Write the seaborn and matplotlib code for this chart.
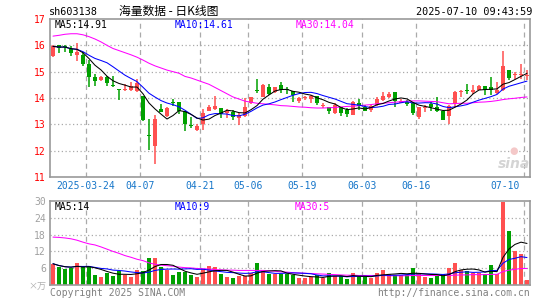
import numpy as np
import pandas as pd
import matplotlib
matplotlib.use("Agg")
import matplotlib.pyplot as plt
import seaborn as sns

# 日K数据 (2025-03-14 .. 2025-07-10), 读自图片
opens = [15.59, 16.00, 15.99, 15.87, 15.62, 15.62, 15.31, 14.80, 14.69, 14.78,
         14.50, 14.32, 14.29, 14.31, 14.25, 14.06, 12.60, 12.16, 13.60, 13.31,
         13.85, 13.86, 13.49, 12.95, 12.80, 13.02, 13.52, 13.57, 13.62, 13.42,
         13.45, 13.24, 13.30, 13.82, 14.29, 14.05, 14.42, 14.24, 14.49, 14.31,
         14.27, 13.90, 13.99, 13.96, 14.08, 13.69, 13.67, 13.44, 13.67, 13.55,
         13.36, 13.82, 13.65, 13.55, 13.74, 13.92, 14.05, 14.22, 13.82, 13.86,
         13.80, 13.27, 13.61, 13.77, 13.65, 13.51, 13.30, 13.77, 14.24, 14.27,
         14.24, 14.32, 14.45, 14.42, 14.20, 14.32, 15.07, 14.86, 14.87, 14.85]
closes = [15.96, 15.91, 15.93, 15.69, 15.75, 15.31, 14.81, 14.66, 14.80, 14.56,
          14.44, 14.30, 14.34, 14.44, 14.56, 13.16, 12.55, 13.21, 13.46, 13.63,
          13.82, 13.49, 13.02, 12.93, 12.95, 13.42, 13.67, 13.70, 13.40, 13.49,
          13.27, 13.36, 13.64, 14.02, 14.27, 14.49, 14.15, 14.40, 14.30, 14.30,
          14.11, 13.99, 14.05, 14.09, 13.80, 13.74, 13.49, 13.74, 13.42, 13.40,
          13.86, 13.70, 13.52, 13.70, 13.95, 14.09, 14.17, 13.90, 13.90, 13.77,
          13.42, 13.65, 13.67, 13.65, 13.49, 13.17, 13.70, 14.24, 14.26, 14.25,
          14.32, 14.45, 14.32, 14.32, 14.32, 15.21, 14.76, 14.90, 14.92, 14.89]
highs = [16.00, 16.02, 16.00, 15.96, 16.10, 15.75, 15.44, 14.91, 14.84, 14.84,
         14.84, 14.34, 14.54, 14.60, 14.73, 14.06, 13.19, 13.34, 13.79, 13.66,
         13.96, 13.86, 13.49, 13.27, 13.00, 13.59, 13.72, 14.07, 13.62, 13.57,
         13.55, 13.42, 13.99, 14.02, 14.74, 14.55, 14.55, 14.42, 14.61, 14.40,
         14.27, 14.05, 14.07, 14.11, 14.08, 13.80, 13.67, 13.80, 13.67, 13.61,
         13.90, 13.95, 13.74, 13.74, 14.05, 14.24, 14.24, 14.22, 13.97, 13.92,
         13.86, 13.67, 13.74, 13.86, 14.05, 13.51, 13.74, 14.27, 14.30, 14.55,
         14.49, 14.49, 14.45, 14.80, 14.61, 15.77, 15.07, 14.99, 15.30, 15.07]
lows = [15.55, 15.71, 15.75, 15.59, 15.41, 15.22, 14.41, 14.47, 14.66, 14.44,
        14.41, 13.91, 14.26, 14.28, 14.21, 13.12, 12.04, 11.50, 13.46, 13.29,
        13.71, 13.40, 12.74, 12.86, 12.74, 12.80, 13.49, 13.55, 13.24, 13.24,
        13.17, 12.96, 13.27, 13.77, 14.20, 14.05, 14.11, 14.18, 14.18, 14.15,
        13.86, 13.82, 13.94, 13.80, 13.74, 13.61, 13.40, 13.41, 13.31, 13.28,
        13.36, 13.55, 13.49, 13.45, 13.70, 13.90, 13.99, 13.65, 13.80, 13.70,
        13.36, 13.20, 13.45, 13.49, 13.45, 13.15, 13.02, 13.65, 14.05, 14.17,
        14.17, 14.30, 14.11, 14.11, 14.17, 14.27, 14.67, 14.74, 14.74, 14.67]
ma30 = [16.35, 16.38, 16.42, 16.44, 16.44, 16.40, 16.33, 16.24, 16.13, 16.00,
        15.88, 15.80, 15.72, 15.64, 15.55, 15.44, 15.32, 15.22, 15.14, 15.06,
        15.00, 14.94, 14.82, 14.76, 14.68, 14.60, 14.52, 14.40, 14.28, 14.16,
        14.04, 13.96, 13.88, 13.84, 13.80, 13.78, 13.76, 13.74, 13.71, 13.70,
        13.68, 13.66, 13.65, 13.63, 13.62, 13.62, 13.63, 13.64, 13.66, 13.68,
        13.69, 13.71, 13.73, 13.75, 13.78, 13.80, 13.82, 13.84, 13.86, 13.88,
        13.89, 13.89, 13.88, 13.87, 13.86, 13.82, 13.78, 13.79, 13.80, 13.80,
        13.82, 13.84, 13.85, 13.87, 13.90, 13.94, 13.97, 13.99, 14.02, 14.04]

# 成交量 (万)
volume = [7.6, 6.3, 5.7, 5.9, 7.8, 6.4, 6.9, 3.7, 3.0, 4.2,
          3.3, 5.0, 3.6, 2.7, 5.5, 5.1, 9.8, 9.8, 6.4, 5.5,
          3.7, 4.5, 4.5, 3.4, 3.0, 5.7, 6.9, 6.5, 4.0, 3.0,
          2.6, 3.1, 3.3, 4.3, 7.9, 5.5, 4.0, 3.9, 3.9, 3.9,
          3.4, 2.4, 2.4, 2.8, 3.4, 2.5, 4.3, 3.1, 3.1, 2.0,
          4.4, 3.0, 3.0, 2.4, 4.4, 5.2, 4.0, 3.7, 3.4, 3.7,
          6.2, 3.8, 2.7, 2.4, 3.6, 4.0, 5.9, 7.9, 5.5, 4.9,
          4.3, 4.3, 4.0, 7.2, 4.0, 29.8, 19.3, 12.2, 11.2, 1.7]
vol_ma30 = [17.1, 17.0, 16.8, 16.5, 16.0, 15.3, 14.7, 14.3, 13.6, 12.8,
            12.0, 11.3, 10.5, 9.9, 9.2, 8.7, 7.9, 7.4, 7.1, 6.9,
            6.7, 6.4, 6.2, 6.1, 5.9, 5.8, 5.7, 5.5, 5.4, 5.3,
            5.3, 5.2, 5.2, 5.2, 5.2, 5.2, 5.1, 4.9, 4.7, 4.6,
            4.4, 4.3, 4.2, 4.1, 4.0, 3.9, 3.8, 3.7, 3.6, 3.5,
            3.5, 3.4, 3.4, 3.4, 3.4, 3.4, 3.3, 3.3, 3.3, 3.3,
            3.4, 3.4, 3.4, 3.4, 3.4, 3.4, 3.4, 3.5, 3.6, 3.6,
            3.7, 3.7, 3.7, 3.8, 3.8, 4.8, 5.3, 5.6, 5.9, 5.9]

date_idx = [6, 15, 25, 33, 42, 52, 61, 79]
date_labels = ['2025-03-24', '04-07', '04-21', '05-06', '05-19', '06-03', '06-16', '07-10']
price_ticks = [11, 12, 13, 14, 15, 16, 17]
vol_ticks = [6, 12, 18, 24, 30]

df = pd.DataFrame({'open': opens, 'close': closes, 'high': highs, 'low': lows,
                   'vol': volume, 'ma30': ma30, 'vma30': vol_ma30})
df['i'] = np.arange(len(df))
df['ma5'] = df['close'].rolling(5, min_periods=1).mean()
df['ma10'] = df['close'].rolling(10, min_periods=1).mean()
df['vma5'] = df['vol'].rolling(5, min_periods=1).mean()
df['vma10'] = df['vol'].rolling(10, min_periods=1).mean()

RED = '#ff5050'
GREEN = '#00a000'
GRID = '#aaaaaa'
df['color'] = np.where(df['close'] >= df['open'], RED, GREEN)

sns.set_style("white")
plt.rcParams['font.family'] = ['DejaVu Sans Mono', 'Noto Sans CJK SC']

W, H = 545, 300
fig = plt.figure(figsize=(W / 100, H / 100), dpi=100)


def box(l, t, r, b):
    return [l / W, 1 - b / H, (r - l) / W, (b - t) / H]


def ptxt(x, y, s, **kw):
    fig.text(x / W, 1 - y / H, s, va='center', **kw)


ax = fig.add_axes(box(50, 19, 530, 177))
axv = fig.add_axes(box(50, 201, 530, 285))

for a in (ax, axv):
    a.set_xlim(-0.5, len(df) - 0.5)
    for s in a.spines.values():
        s.set_color('#999999')
        s.set_linewidth(1.2)
    for d in date_idx:
        a.axvline(d - 0.5, color=GRID, lw=0.9, ls=(0, (4, 3)), zorder=0)
    a.set_xticks([])
    a.tick_params(axis='y', length=0, pad=3, labelsize=7)

# 价格
ax.set_ylim(11, 17)
for p in price_ticks[1:-1]:
    ax.axhline(p, color=GRID, lw=0.9, ls=(0, (1, 2)), zorder=0)
ax.set_yticks(price_ticks)
ax.set_yticklabels([str(p) for p in price_ticks], color='red')

body = (df['close'] - df['open']).abs().clip(lower=0.04)
ax.vlines(df['i'], df['low'], df['high'], colors=df['color'], lw=1.1, zorder=2)
ax.bar(df['i'], body, bottom=df[['open', 'close']].min(axis=1), width=0.76,
       color=df['color'], linewidth=0, zorder=2)

sns.lineplot(data=df, x='i', y='ma30', ax=ax, color='#ff00ff', lw=0.75, zorder=3)
sns.lineplot(data=df, x='i', y='ma10', ax=ax, color='#0000ff', lw=0.75, zorder=3)
sns.lineplot(data=df, x='i', y='ma5', ax=ax, color='black', lw=0.75, zorder=3)
ax.set_xlabel('')
ax.set_ylabel('')

for d, lab in zip(date_idx, date_labels):
    xpos = d - 0.5 if lab != '07-10' else 75.3
    ax.text(xpos, -0.06, lab, transform=ax.get_xaxis_transform(), ha='center',
            va='center', fontsize=7, color='#1776c9')

# 水印
ptxt(514, 151, '●', ha='center', fontsize=7, color='#f4c8c8', family='DejaVu Sans')
ptxt(514, 164, 'sina', ha='center', fontsize=10, color='#d4d4d4',
     style='italic', weight='bold', family='DejaVu Sans')

# 成交量
axv.set_ylim(0, 30)
for v in vol_ticks[:-1]:
    axv.axhline(v, color=GRID, lw=0.9, ls=(0, (1, 2)), zorder=0)
axv.set_yticks(vol_ticks)
axv.set_yticklabels([str(v) for v in vol_ticks], color='#a0a0a0')
axv.bar(df['i'], df['vol'], width=0.76, color=df['color'], linewidth=0, zorder=2)
sns.lineplot(data=df, x='i', y='vma30', ax=axv, color='#ff00ff', lw=0.75, zorder=3)
sns.lineplot(data=df, x='i', y='vma10', ax=axv, color='#0000ff', lw=0.75, zorder=3)
sns.lineplot(data=df, x='i', y='vma5', ax=axv, color='black', lw=0.75, zorder=3)
axv.set_xlabel('')
axv.set_ylabel('')

# 文字
ptxt(49, 12, 'sh603138', fontsize=7.3, color='black')
ptxt(119, 11, '海量数据 - 日K线图', fontsize=8.5, color='black',
     family=['Noto Sans CJK SC', 'DejaVu Sans'])
ptxt(532, 12, '2025-07-10 09:43:59', ha='right', fontsize=7.3, color='black')

ptxt(55, 24.5, 'MA5:14.91', fontsize=7, color='black')
ptxt(175, 24.5, 'MA10:14.61', fontsize=7, color='#0000ff')
ptxt(296, 24.5, 'MA30:14.04', fontsize=7, color='#ff00ff')

ptxt(55, 207, 'MA5:14', fontsize=7, color='black')
ptxt(175, 207, 'MA10:9', fontsize=7, color='#0000ff')
ptxt(295, 207, 'MA30:5', fontsize=7, color='#ff00ff')

ptxt(46, 287, '×万', ha='right', fontsize=6.5, color='#b0b0b0', style='italic',
     family=['Noto Sans CJK SC', 'DejaVu Sans'])
ptxt(50, 292.5, 'Copyright 2025 SINA.COM', fontsize=7, color='#808080')
ptxt(530, 292.5, 'http://finance.sina.com.cn', ha='right', fontsize=7, color='#808080')

fig.savefig('out.png', dpi=100)
